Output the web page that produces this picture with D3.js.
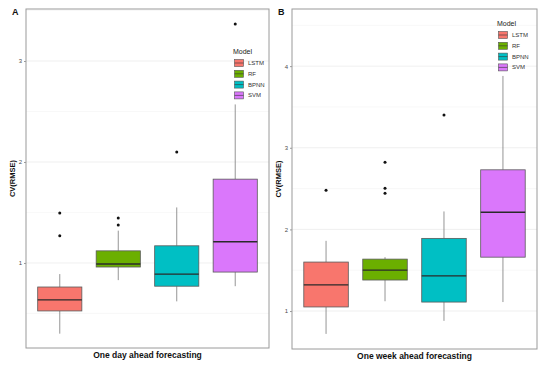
<!DOCTYPE html>
<html>
<head>
<meta charset="utf-8">
<script src="https://cdn.jsdelivr.net/npm/d3@7/dist/d3.min.js"></script>
<style>
  body { margin: 0; background: #fff; }
  svg { display: block; font-family: "Liberation Sans", Arial, sans-serif; }
</style>
</head>
<body>
<svg id="chart" width="550" height="366"></svg>
<script>
// ==============================
// DATA
// ==============================
const models = ["LSTM", "RF", "BPNN", "SVM"];
const colors = ["#F8766D", "#6BAF00", "#00BFC4", "#DA77FB"];
const legendLabels = ["LSTM", "RF", "BPNN", "SVM"];

// five-number summaries per model: [whiskerLow, q1, median, q3, whiskerHigh]
const dayStats = [
    [0.30, 0.525, 0.634, 0.762, 0.89],
    [0.83, 0.96, 0.99, 1.12, 1.32],
    [0.62, 0.77, 0.89, 1.17, 1.55],
    [0.77, 0.91, 1.21, 1.83, 2.57]
];
const dayOutliers = [
    [1.27, 1.495],
    [1.376, 1.446],
    [2.10],
    [3.366]
];

const weekStats = [
    [0.72, 1.05, 1.32, 1.60, 1.86],
    [1.12, 1.38, 1.50, 1.636, 1.66],
    [0.88, 1.11, 1.43, 1.89, 2.22],
    [1.11, 1.66, 2.21, 2.73, 3.88]
];
const weekOutliers = [
    [2.48],
    [2.444, 2.505, 2.824],
    [3.40],
    []
];

const dayTicks = [1, 2, 3];
const dayMinor = [0.5, 1.5, 2.5, 3.5];
const weekTicks = [1, 2, 3, 4];
const weekMinor = [1.5, 2.5, 3.5, 4.5];

// ==============================
// PANEL CONFIG
// ==============================
const panels = [
    {
        letter: "A", title: "One day ahead forecasting",
        x0: 26, x1: 269, y0: 9, y1: 348, domain: [0.158, 3.515],
        stats: dayStats, outliers: dayOutliers, ticks: dayTicks, minor: dayMinor,
        legend: { x: 233, y: 51 }
    },
    {
        letter: "B", title: "One week ahead forecasting",
        x0: 292, x1: 537, y0: 9, y1: 349, domain: [0.535, 4.70],
        stats: weekStats, outliers: weekOutliers, ticks: weekTicks, minor: weekMinor,
        legend: { x: 497, y: 23 }
    }
];

const svg = d3.select("#chart");

panels.forEach(p => drawPanel(p));

function drawPanel(p) {
    const y = d3.scaleLinear().domain(p.domain).range([p.y1, p.y0]);
    const x = d3.scaleBand().domain(models).range([p.x0, p.x1])
        .paddingInner(0.245).paddingOuter(0.2);

    const g = svg.append("g");

    // grid lines
    g.selectAll(".minor").data(p.minor.filter(v => v > p.domain[0] && v < p.domain[1]))
        .enter().append("line")
        .attr("x1", p.x0).attr("x2", p.x1)
        .attr("y1", d => y(d)).attr("y2", d => y(d))
        .attr("stroke", "#f4f4f4").attr("stroke-width", 0.6);
    g.selectAll(".major").data(p.ticks)
        .enter().append("line")
        .attr("x1", p.x0).attr("x2", p.x1)
        .attr("y1", d => y(d)).attr("y2", d => y(d))
        .attr("stroke", "#ebebeb").attr("stroke-width", 0.8);

    // y axis ticks
    const axis = g.append("g")
        .attr("transform", `translate(${p.x0},0)`)
        .call(d3.axisLeft(y).tickValues(p.ticks).tickSize(2).tickPadding(2).tickFormat(d3.format("d")));
    axis.select(".domain").remove();
    axis.selectAll("line").attr("stroke", "#555").attr("stroke-width", 0.6);
    axis.selectAll("text").attr("fill", "#4d4d4d").style("font-size", "6px");

    // boxes
    const bw = x.bandwidth();
    models.forEach((m, i) => {
        const s = p.stats[i];
        const cx = x(m) + bw / 2;
        const bg = g.append("g");
        bg.append("line")
            .attr("x1", cx).attr("x2", cx).attr("y1", y(s[3])).attr("y2", y(s[4]))
            .attr("stroke", "#7a7a7a").attr("stroke-width", 0.8);
        bg.append("line")
            .attr("x1", cx).attr("x2", cx).attr("y1", y(s[0])).attr("y2", y(s[1]))
            .attr("stroke", "#7a7a7a").attr("stroke-width", 0.8);
        bg.append("rect")
            .attr("x", x(m)).attr("width", bw)
            .attr("y", y(s[3])).attr("height", y(s[1]) - y(s[3]))
            .attr("fill", colors[i]).attr("stroke", "#5a5a5a").attr("stroke-width", 0.8);
        bg.append("line")
            .attr("x1", x(m)).attr("x2", x(m) + bw).attr("y1", y(s[2])).attr("y2", y(s[2]))
            .attr("stroke", "#2a2a2a").attr("stroke-width", 1.3);
        bg.selectAll("circle").data(p.outliers[i]).enter().append("circle")
            .attr("cx", cx).attr("cy", d => y(d)).attr("r", 1.5).attr("fill", "#111");
    });

    // panel border
    g.append("rect")
        .attr("x", p.x0).attr("y", p.y0)
        .attr("width", p.x1 - p.x0).attr("height", p.y1 - p.y0)
        .attr("fill", "none").attr("stroke", "#9a9a9a").attr("stroke-width", 1);

    // axis titles
    g.append("text")
        .attr("x", (p.x0 + p.x1) / 2).attr("y", p.y1 + 10)
        .attr("text-anchor", "middle").style("font-size", "8.5px").style("font-weight", "bold")
        .attr("fill", "#111").text(p.title);
    g.append("text")
        .attr("transform", `translate(${p.x0 - 11},${(p.y0 + p.y1) / 2}) rotate(-90)`)
        .attr("text-anchor", "middle").style("font-size", "7.5px").style("font-weight", "bold")
        .attr("fill", "#111").text("CV(RMSE)");

    // panel letter
    g.append("text")
        .attr("x", p.x0 - 14).attr("y", p.y0 + 6)
        .style("font-size", "9px").style("font-weight", "bold").attr("fill", "#111")
        .text(p.letter);

    // legend
    const lg = g.append("g").attr("transform", `translate(${p.legend.x},${p.legend.y})`);
    lg.append("text").attr("x", 0).attr("y", 2.5)
        .style("font-size", "7px").attr("fill", "#222").text("Model");
    legendLabels.forEach((lab, i) => {
        const ky = 12 + i * 10.8;
        lg.append("rect").attr("x", 1.5).attr("y", ky - 3.5).attr("width", 9).attr("height", 7)
            .attr("fill", colors[i]).attr("stroke", "#555").attr("stroke-width", 0.6);
        lg.append("line").attr("x1", 1.5).attr("x2", 10.5).attr("y1", ky).attr("y2", ky)
            .attr("stroke", "#333").attr("stroke-width", 0.6);
        lg.append("text").attr("x", 15).attr("y", ky + 2)
            .style("font-size", "6px").attr("fill", "#333").text(lab);
    });
}
</script>
</body>
</html>
